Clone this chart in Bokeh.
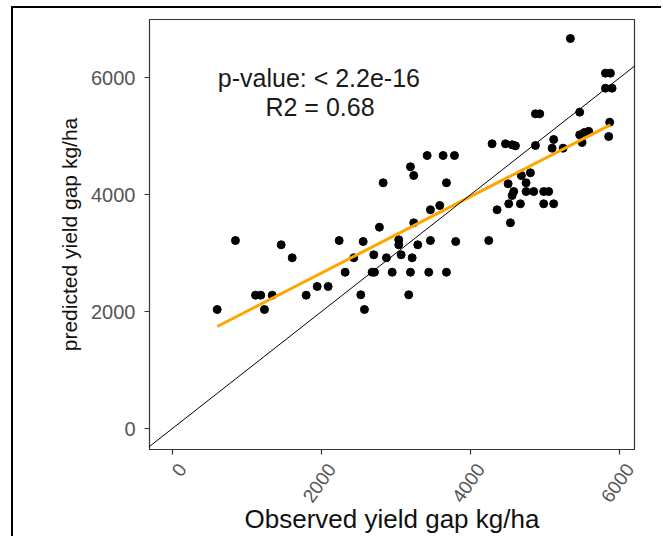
import math
from bokeh.plotting import figure
from bokeh.models import Range1d, Slope, Label, FixedTicker
from bokeh.embed import file_html
from bokeh.resources import INLINE

# observed (x) and predicted (y) yield gap, kg/ha
obs_gap = [606, 851, 1120, 1190, 1240, 1344, 1464, 1612, 1799, 1947, 2094, 2242,
           2322, 2438, 2532, 2581, 2564, 2684, 2715, 2706, 2782, 2832, 2876, 2953,
           3041, 3041, 3073, 3175, 3198, 3198, 3221, 3242, 3242, 3296, 3422, 3443,
           3466, 3466, 3591, 3636, 3681, 3681, 3788, 3805, 4248, 4293, 4360,
           4472, 4562, 4606, 4508, 4516, 4539, 4562, 4583, 4673, 4686, 4749, 4749,
           4807, 4851, 4874, 4874, 4932, 4985, 4985, 5052, 5098, 5119, 5119, 5245,
           5343, 5468, 5468, 5500, 5531, 5589, 5813, 5880, 5813, 5902, 5870, 5857]
pred_gap = [2040, 3220, 2285, 2285, 2040, 2285, 3147, 2925, 2285, 2434, 2434, 3220,
            2678, 2925, 2292, 2040, 3203, 2678, 2678, 2976, 3448, 4207, 2925, 2678,
            3232, 3147, 2976, 2292, 2678, 4481, 2925, 4332, 3523, 3147, 4674, 2678,
            3220, 3746, 3819, 4674, 4207, 2678, 4674, 3203, 3220, 4874, 3746,
            4874, 4857, 4840, 4190, 3848, 3523, 3990, 4058, 3848, 4332, 4207, 4058,
            4378, 4058, 4845, 5387, 5387, 4058, 3848, 4058, 4799, 4948, 3848, 4799,
            6675, 5415, 5028, 4897, 5068, 5085, 6082, 6082, 5825, 5825, 5244, 4999]

# fitted regression line (orange)
fit_x = [606, 5880]
fit_y = [1750, 5199]

# 1:1 line
diag_gradient = 1
diag_intercept = 0

x_ticks = [0, 2000, 4000, 6000]
y_ticks = [0, 2000, 4000, 6000]
x_tick_labels = ["0", "2000", "4000", "6000"]
x_limits = (-302, 6203)
y_limits = (-354, 7000)

p_text = "p-value: < 2.2e-16"
r2_text = "R2 = 0.68"
x_title = "Observed yield gap kg/ha"
y_title = "predicted yield gap kg/ha"

FONT = "Liberation Sans"

p = figure(width=650, height=530,
           x_range=Range1d(*x_limits), y_range=Range1d(*y_limits),
           output_backend="svg", toolbar_location=None,
           min_border_left=136, min_border_right=29,
           min_border_top=11, min_border_bottom=89,
           x_axis_label=x_title, y_axis_label=y_title)
p.styles = {"border-left": "2px solid black", "border-top": "2px solid black",
            "margin-left": "11px", "margin-top": "6px"}

p.xgrid.visible = False
p.ygrid.visible = False
p.outline_line_color = "#333333"
p.outline_line_width = 1.2
p.background_fill_color = "white"
p.border_fill_color = "white"

for ax in (p.xaxis[0], p.yaxis[0]):
    ax.axis_line_color = None
    ax.major_tick_line_color = "#333333"
    ax.major_tick_line_width = 1.2
    ax.major_tick_out = 5
    ax.major_tick_in = 0
    ax.minor_tick_line_color = None
    ax.major_label_text_font = FONT
    ax.major_label_text_color = "#555555"
    ax.axis_label_text_font = FONT
    ax.axis_label_text_font_style = "normal"
    ax.axis_label_text_color = "#111111"

p.xaxis[0].major_label_text_font_size = "19px"
p.yaxis[0].major_label_text_font_size = "20px"
p.xaxis[0].ticker = FixedTicker(ticks=x_ticks)
p.yaxis[0].ticker = FixedTicker(ticks=y_ticks)
# leading empty line pushes the rotated labels off the tick, like the original
p.xaxis[0].major_label_overrides = {t: "\n" + s for t, s in zip(x_ticks, x_tick_labels)}
p.xaxis[0].major_label_orientation = math.radians(55)
p.xaxis[0].major_label_standoff = 4
p.yaxis[0].major_label_standoff = 9
p.xaxis[0].axis_label_text_font_size = "26px"
p.yaxis[0].axis_label_text_font_size = "21px"
p.xaxis[0].axis_label_standoff = -19
p.yaxis[0].axis_label_standoff = 7

p.scatter(obs_gap, pred_gap, size=8, color="black")
p.add_layout(Slope(gradient=diag_gradient, y_intercept=diag_intercept,
                   line_color="black", line_width=1))
p.line(fit_x, fit_y, line_color="orange", line_width=3)

p.add_layout(Label(x=1970, y=6000, text=p_text, text_align="center",
                   text_baseline="middle", text_font=FONT,
                   text_font_size="25px", text_color="#1a1a1a"))
p.add_layout(Label(x=1985, y=5510, text=r2_text, text_align="center",
                   text_baseline="middle", text_font=FONT,
                   text_font_size="25px", text_color="#1a1a1a"))

open("out.html", "w").write(file_html(p, INLINE))
